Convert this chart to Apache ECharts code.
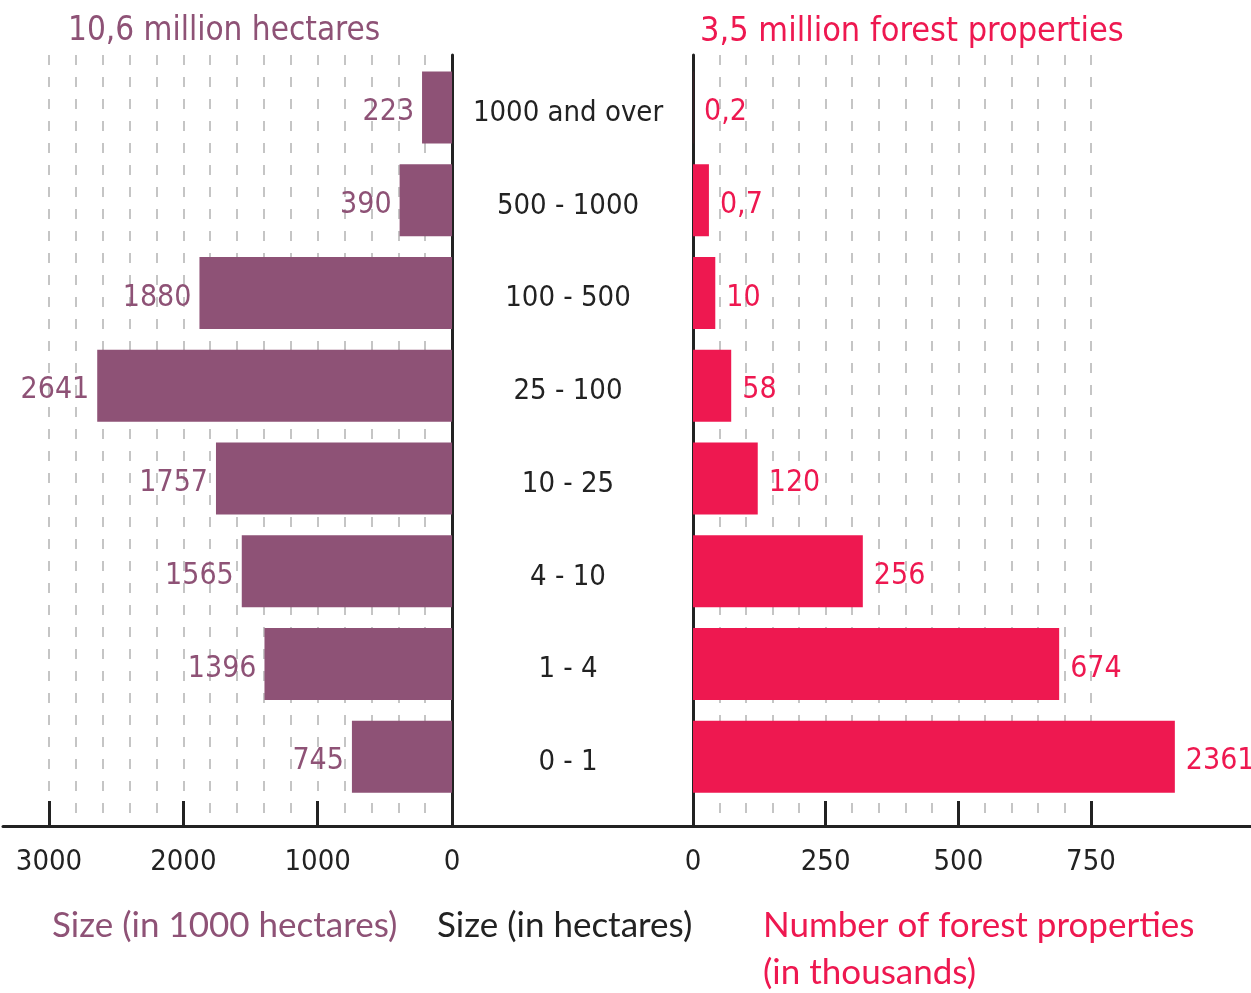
<!DOCTYPE html>
<html>
<head>
<meta charset="utf-8">
<script src="https://cdn.jsdelivr.net/npm/echarts@6/dist/echarts.min.js"></script>
<style>
  html, body { margin: 0; padding: 0; background: #fff; }
  #chart { width: 1251px; height: 993px; }
</style>
</head>
<body>
<div id="chart"></div>
<script>
// Size classes (hectares), top to bottom
const sizeClasses = ["1000 and over", "500 - 1000", "100 - 500", "25 - 100", "10 - 25", "4 - 10", "1 - 4", "0 - 1"];
// Area per class, in 1000 hectares
const areaThousandHa = [223, 390, 1880, 2641, 1757, 1565, 1396, 745];
// Number of forest properties, in thousands (printed labels)
const propertiesLabels = ["0,2", "0,7", "10", "58", "120", "256", "674", "2361"];
// Drawn bar lengths on the right axis (the picture is not to scale for small / the largest values)
const propertiesBarLength = [0.2, 30, 42, 72, 122, 320, 690, 908];

const PURPLE = "#8E5276";
const RED = "#EE1850";
const INK = "#222222";
const NARROW = '"Liberation Sans Narrow", "DejaVu Sans Condensed", Roboto, sans-serif';
const HUMAN = 'Lato, "Open Sans", sans-serif';

const chart = echarts.init(document.getElementById("chart"));

const dashed = { show: true, lineStyle: { color: "#b3b3b3", width: 1.5, type: [10, 12] } };
const tickLabel = { color: INK, fontFamily: NARROW, fontSize: 29, margin: 22, formatter: (v) => String(v) };

const option = {
  animation: false,
  title: [
    { text: "10,6 million hectares", left: 68, top: 15, padding: 0, textStyle: { color: PURPLE, fontFamily: NARROW, fontSize: 33, fontWeight: "normal" } },
    { text: "3,5 million forest properties", left: 700, top: 15, padding: 0, textStyle: { color: RED, fontFamily: NARROW, fontSize: 34, fontWeight: "normal" } },
    { text: "Size (in 1000 hectares)", left: 52, top: 908, padding: 0, textStyle: { color: PURPLE, fontFamily: HUMAN, fontSize: 35, fontWeight: "normal" } },
    { text: "Size (in hectares)", left: 437, top: 908, padding: 0, textStyle: { color: INK, fontFamily: HUMAN, fontSize: 35, fontWeight: "normal" } },
    { text: "Number of forest properties\n(in thousands)", left: 763, top: 902, padding: 0, textStyle: { color: RED, fontFamily: HUMAN, fontSize: 35, fontWeight: "normal", lineHeight: 47 } }
  ],
  grid: [
    // 0: left gridlines / ticks
    { left: 49, width: 403, top: 55, height: 771 },
    // 1: right gridlines / ticks
    { left: 693, width: 398, top: 55, height: 771 },
    // 2: left bars
    { left: 49, width: 403, top: 61, height: 742 },
    // 3: right bars
    { left: 693, width: 398, top: 61, height: 742 },
    // 4: full-width baseline
    { left: 3, right: 0, top: 55, height: 771 }
  ],
  xAxis: [
    {
      gridIndex: 0, type: "value", min: 0, max: 3000, interval: 1000, inverse: true,
      axisLine: { show: false },
      axisTick: { show: true, inside: true, length: 25, lineStyle: { color: INK, width: 3 } },
      axisLabel: tickLabel,
      splitLine: dashed,
      minorTick: { show: false, splitNumber: 5 },
      minorSplitLine: dashed
    },
    {
      gridIndex: 1, type: "value", min: 0, max: 750, interval: 250,
      axisLine: { show: false },
      axisTick: { show: true, inside: true, length: 25, lineStyle: { color: INK, width: 3 } },
      axisLabel: tickLabel,
      splitLine: dashed,
      minorTick: { show: false, splitNumber: 5 },
      minorSplitLine: dashed
    },
    { gridIndex: 2, type: "value", min: 0, max: 3000, inverse: true, show: false },
    { gridIndex: 3, type: "value", min: 0, max: 750, show: false },
    {
      gridIndex: 4, type: "value", min: 0, max: 1,
      axisLine: { show: true, lineStyle: { color: INK, width: 3 } },
      axisTick: { show: false }, axisLabel: { show: false }, splitLine: { show: false }
    }
  ],
  yAxis: [
    {
      gridIndex: 0, type: "value", min: 0, max: 1, position: "right",
      axisLine: { show: true, lineStyle: { color: INK, width: 3 } },
      axisTick: { show: false }, axisLabel: { show: false }, splitLine: { show: false }
    },
    {
      gridIndex: 1, type: "value", min: 0, max: 1, position: "left",
      axisLine: { show: true, lineStyle: { color: INK, width: 3 } },
      axisTick: { show: false }, axisLabel: { show: false }, splitLine: { show: false }
    },
    {
      gridIndex: 2, type: "category", data: sizeClasses, inverse: true, position: "right",
      axisLine: { show: false }, axisTick: { show: false },
      axisLabel: {
        color: INK, fontFamily: NARROW, fontSize: 29, margin: 116, align: "center",
        formatter: (v) => "{c|" + v + "}",
        rich: { c: { color: INK, fontFamily: NARROW, fontSize: 29, padding: [12, 0, 0, 0] } }
      }
    },
    { gridIndex: 3, type: "category", data: sizeClasses, inverse: true, show: false },
    { gridIndex: 4, type: "value", show: false }
  ],
  series: [
    {
      name: "Size (in 1000 hectares)",
      type: "bar",
      xAxisIndex: 2, yAxisIndex: 2,
      data: areaThousandHa,
      barWidth: 72,
      itemStyle: { color: PURPLE },
      label: { show: true, position: "left", distance: 8, offset: [0, 5], color: PURPLE, fontFamily: NARROW, fontSize: 30 }
    },
    {
      name: "Number of forest properties",
      type: "bar",
      xAxisIndex: 3, yAxisIndex: 3,
      data: propertiesBarLength,
      barWidth: 72,
      clip: false,
      itemStyle: { color: RED },
      label: {
        show: true, position: "right", distance: 11, offset: [0, 5], color: RED, fontFamily: NARROW, fontSize: 30,
        formatter: (p) => propertiesLabels[p.dataIndex]
      }
    }
  ]
};

chart.setOption(option);
</script>
</body>
</html>
